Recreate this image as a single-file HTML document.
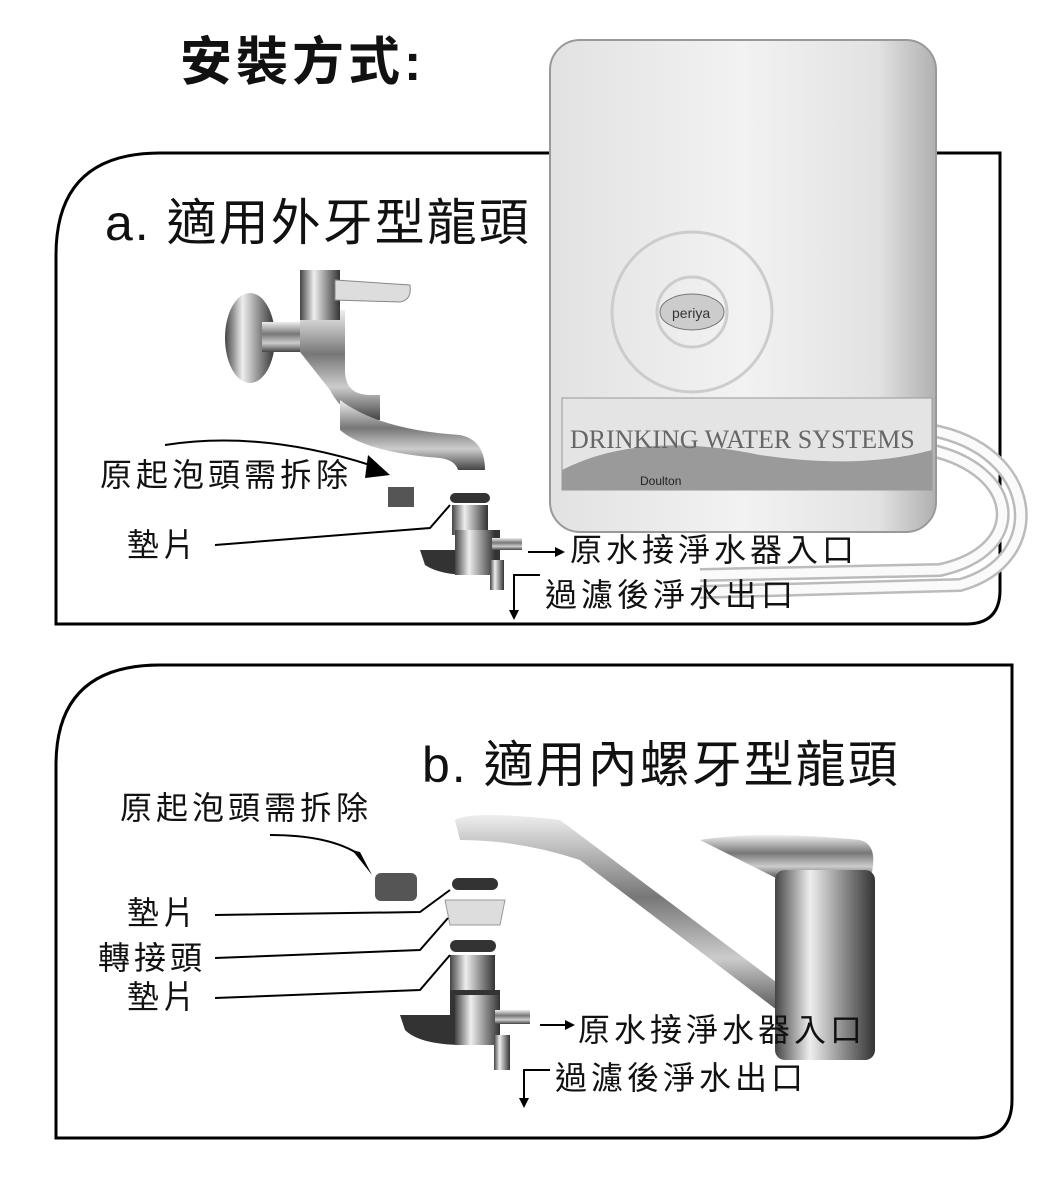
<!DOCTYPE html>
<html><head><meta charset="utf-8"><style>
html,body{margin:0;padding:0;background:#fff;}
body{width:1058px;height:1181px;overflow:hidden;}
svg text{font-family:"Liberation Sans","Noto Sans CJK TC",sans-serif;fill:#111;}
.lb{font-size:32px;letter-spacing:4px;}
.hd{font-size:50px;letter-spacing:2px;}
</style></head><body>
<svg width="1058" height="1181" viewBox="0 0 1058 1181" xmlns="http://www.w3.org/2000/svg">
<defs>
<linearGradient id="box" x1="0" y1="0" x2="1" y2="0">
<stop offset="0" stop-color="#e2e2e2"/><stop offset="0.5" stop-color="#f2f2f2"/><stop offset="0.85" stop-color="#e2e2e2"/><stop offset="1" stop-color="#b0b0b0"/>
</linearGradient>
<linearGradient id="chrome" x1="0" y1="0" x2="0" y2="1">
<stop offset="0" stop-color="#eee"/><stop offset="0.4" stop-color="#777"/><stop offset="0.7" stop-color="#ccc"/><stop offset="1" stop-color="#444"/>
</linearGradient>
<linearGradient id="chromeV" x1="0" y1="0" x2="1" y2="0">
<stop offset="0" stop-color="#444"/><stop offset="0.35" stop-color="#eee"/><stop offset="0.7" stop-color="#888"/><stop offset="1" stop-color="#333"/>
</linearGradient>
</defs>

<text x="180" y="80" font-size="52" font-weight="bold" letter-spacing="4">安裝方式:</text>

<path d="M160 153 H1000 V590 Q1000 624 966 624 H56 V255 Q56 153 160 153 Z" fill="none" stroke="#000" stroke-width="3"/>
<path d="M160 665 H1012 V1100 Q1012 1138 974 1138 H56 V765 Q56 665 160 665 Z" fill="none" stroke="#000" stroke-width="3"/>

<path d="M930 430 C1040 450 1050 560 960 585 L700 592" fill="none" stroke="#bbb" stroke-width="14"/>
<path d="M930 430 C1040 450 1050 560 960 585 L700 592" fill="none" stroke="#fafafa" stroke-width="9"/>
<path d="M930 450 C1020 470 1030 550 940 570 L700 575" fill="none" stroke="#bbb" stroke-width="14"/>
<path d="M930 450 C1020 470 1030 550 940 570 L700 575" fill="none" stroke="#fafafa" stroke-width="9"/>

<rect x="550" y="40" width="386" height="492" rx="30" fill="url(#box)" stroke="#999" stroke-width="2"/>
<g fill="none" stroke="#ccc" stroke-width="3">
<circle cx="692" cy="312" r="80"/>
<circle cx="692" cy="312" r="35"/>
</g>
<ellipse cx="692" cy="312" rx="32" ry="18" fill="#ccc" stroke="#777"/>
<text x="672" y="318" font-size="14" style="fill:#333">periya</text>
<rect x="562" y="398" width="370" height="92" fill="#e4e4e4" stroke="#999"/>
<path d="M562 470 Q640 430 760 455 Q860 470 932 450 V490 H562 Z" fill="#9a9a9a"/>
<text x="570" y="448" font-size="26" style="fill:#666;font-family:'Liberation Serif',serif">DRINKING WATER SYSTEMS</text>
<text x="640" y="485" font-size="12" style="fill:#222">Doulton</text>

<text x="105" y="240" class="hd">a. 適用外牙型龍頭</text>

<ellipse cx="250" cy="338" rx="25" ry="45" fill="url(#chromeV)"/>
<rect x="262" y="322" width="40" height="30" fill="url(#chrome)"/>
<path d="M300 310 H345 V370 Q345 395 370 395 H380 V420 Q345 420 330 390 L300 352 Z" fill="url(#chrome)"/>
<path d="M340 400 Q380 430 460 435 Q485 440 485 470 H458 Q455 460 440 458 Q365 452 340 430 Z" fill="url(#chrome)"/>
<rect x="300" y="270" width="40" height="50" fill="url(#chromeV)"/>
<path d="M335 280 L410 285 Q412 300 400 302 L335 300 Z" fill="#ddd" stroke="#888"/>
<rect x="388" y="487" width="26" height="20" fill="#555"/>
<rect x="450" y="493" width="40" height="10" rx="5" fill="#333"/>
<rect x="452" y="505" width="36" height="30" fill="url(#chromeV)"/>
<path d="M420 550 H465 V530 H500 V575 H470 Q440 575 425 565 Z" fill="#333"/>
<rect x="455" y="530" width="40" height="45" fill="url(#chromeV)"/>
<rect x="492" y="538" width="30" height="12" fill="url(#chrome)"/>
<rect x="490" y="560" width="14" height="30" fill="url(#chromeV)"/>

<path d="M165 445 Q260 430 370 465" fill="none" stroke="#000" stroke-width="2"/>
<path d="M368 455 L390 475 L365 478 Z" fill="#000"/>
<text x="100" y="486" class="lb">原起泡頭需拆除</text>
<text x="127" y="556" class="lb">墊片</text>
<path d="M215 545 L430 528 L450 505" fill="none" stroke="#000" stroke-width="2"/>
<path d="M528 552 H555" stroke="#000" stroke-width="2"/><path d="M555 547 L565 552 L555 557 Z"/>
<text x="570" y="561" class="lb">原水接淨水器入口</text>
<path d="M540 575 H514 V612" fill="none" stroke="#000" stroke-width="2"/><path d="M509 610 L514 620 L519 610 Z"/>
<text x="545" y="606" class="lb">過濾後淨水出口</text>

<text x="422" y="782" class="hd">b. 適用內螺牙型龍頭</text>

<path d="M455 820 Q470 810 560 820 L600 850 L800 1000 L790 1020 L580 860 Q520 840 460 840 Z" fill="url(#chrome)"/>
<path d="M700 840 Q760 830 860 840 Q880 845 870 880 H780 Z" fill="url(#chrome)"/>
<rect x="775" y="870" width="100" height="190" rx="10" fill="url(#chromeV)"/>
<rect x="375" y="873" width="42" height="28" rx="6" fill="#555"/>
<rect x="452" y="878" width="46" height="12" rx="6" fill="#333"/>
<path d="M445 900 H505 L500 925 H450 Z" fill="#ddd" stroke="#999"/>
<rect x="450" y="940" width="46" height="12" rx="6" fill="#333"/>
<rect x="450" y="955" width="45" height="35" fill="url(#chromeV)"/>
<path d="M400 1015 H450 V990 H500 V1045 H465 Q420 1045 405 1030 Z" fill="#333"/>
<rect x="455" y="995" width="45" height="50" fill="url(#chromeV)"/>
<rect x="495" y="1010" width="35" height="14" fill="url(#chrome)"/>
<rect x="494" y="1035" width="16" height="35" fill="url(#chromeV)"/>

<text x="120" y="819" class="lb">原起泡頭需拆除</text>
<path d="M270 835 Q330 835 360 855" fill="none" stroke="#000" stroke-width="2"/>
<path d="M352 850 L372 875 L360 852 Z" fill="#000"/>
<text x="127" y="924" class="lb">墊片</text>
<text x="98" y="969" class="lb">轉接頭</text>
<text x="127" y="1008" class="lb">墊片</text>
<path d="M215 915 L420 912 L450 890" fill="none" stroke="#000" stroke-width="2"/>
<path d="M215 958 L420 950 L448 918" fill="none" stroke="#000" stroke-width="2"/>
<path d="M215 998 L420 990 L450 955" fill="none" stroke="#000" stroke-width="2"/>
<path d="M540 1025 H565" stroke="#000" stroke-width="2"/><path d="M565 1020 L575 1025 L565 1030 Z"/>
<text x="578" y="1041" class="lb">原水接淨水器入口</text>
<path d="M550 1070 H524 V1100" fill="none" stroke="#000" stroke-width="2"/><path d="M519 1098 L524 1108 L529 1098 Z"/>
<text x="555" y="1089" class="lb">過濾後淨水出口</text>
</svg>
</body></html>
